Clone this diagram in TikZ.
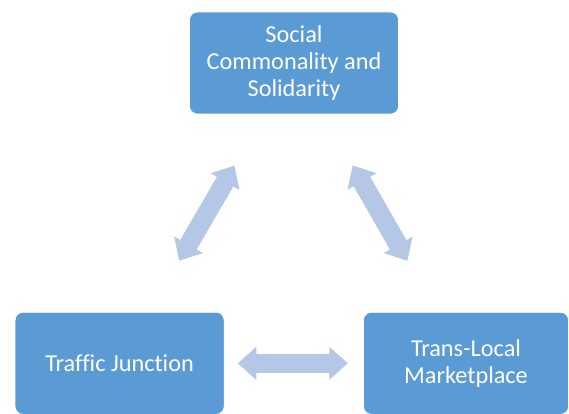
\documentclass[tikz,border=0pt]{standalone}
\usepackage{fontspec}
\setmainfont[Ligatures=NoCommon]{Carlito}
\usetikzlibrary{calc,arrows.meta}
\definecolor{boxblue}{HTML}{5B9BD5}
\definecolor{arrowblue}{HTML}{B4C7E7}
\tikzset{
  boxnode/.style={rectangle, rounded corners=8pt, fill=boxblue, draw=white, line width=0.6pt,
    minimum width=209pt, minimum height=102pt, inner sep=0pt, align=center, text=white,
    font=\fontsize{24.3}{26.7}\selectfont},
  dblarrow/.style={line width=19pt, draw=arrowblue,
    {Triangle[length=18.5pt,width=32pt]}-{Triangle[length=18.5pt,width=32pt]}}
}
\begin{document}
\begin{tikzpicture}[x=1pt,y=-1pt]
\useasboundingbox (0,0) rectangle (569,414);
\node[boxnode] (top) at (294,63) {Social\\Commonality and\\Solidarity};
\node[boxnode] (bl) at (119.6,363.3) {Traffic Junction};
\node[boxnode, minimum width=205pt] (br) at (466,363.3) {Trans-Local\\Marketplace};
\coordinate (m1) at ($(top)!0.5!(bl)$);
\coordinate (m2) at ($(top)!0.5!(br)$);
\coordinate (m3) at ($(bl)!0.5!(br)$);
\draw[dblarrow] ($(m1)!55pt!(top)$) -- ($(m1)!55pt!(bl)$);
\draw[dblarrow] ($(m2)!55pt!(top)$) -- ($(m2)!55pt!(br)$);
\draw[dblarrow] ($(m3)!55pt!(bl)$) -- ($(m3)!55pt!(br)$);
\end{tikzpicture}
\end{document}
